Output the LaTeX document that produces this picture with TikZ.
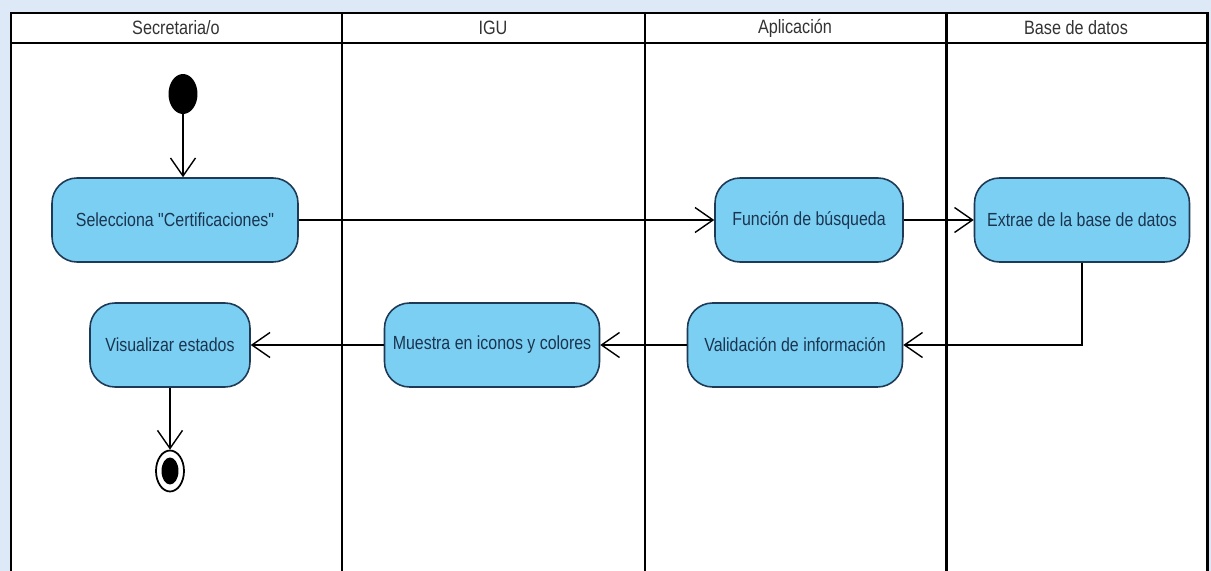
\documentclass[tikz,border=0pt]{standalone}
\usepackage{fontspec}
\setmainfont{Liberation Sans}[FakeStretch=0.84, Ligatures=TeXOff]
\usetikzlibrary{arrows.meta,shapes.geometric}
\definecolor{bgblue}{HTML}{DDE9F6}
\definecolor{actfill}{HTML}{7BCFF2}
\definecolor{actline}{HTML}{1E3A56}
\definecolor{acttext}{HTML}{1B3450}

\begin{document}
\begin{tikzpicture}[x=0.02cm, y=-0.02cm, >={Straight Barb[length=0.36cm,width=0.5cm]},
    act/.style={rectangle, rounded corners=0.5cm, draw=actline, line width=0.9pt, fill=actfill, text=acttext, minimum height=1.68cm, font=\fontsize{10.8}{12}\selectfont},
    lane/.style={line width=1.7pt},
    flow/.style={->, line width=0.8pt},
    hdr/.style={font=\fontsize{11}{12}\selectfont, text=black!80}]
    % fondo y carriles
    \fill[bgblue] (0,0) rectangle (1211,571);
    \useasboundingbox (0,0) rectangle (1211,571);
    \fill[white] (11,13) rectangle (1207,571);
    \draw[lane] (11,571) -- (11,13) -- (1207,13) -- (1207,571);
    \draw[lane] (11,43) -- (1207,43);
    \foreach \x in {342,645,946} \draw[lane] (\x,13) -- (\x,571);
    \node[hdr] (hSec) at (176,28) {Secretaria/o};
    \node[hdr] (hIgu) at (493,28) {IGU};
    \node[hdr] (hApp) at (795,28) {Aplicación};
    \node[hdr] (hBd) at (1076,28) {Base de datos};

    % actividades
    \node[ellipse,fill=black,minimum width=0.58cm,minimum height=0.8cm,inner sep=0] (ini) at (183,94) {};
    \node[act,minimum width=4.92cm] (sel) at (175,220) {Selecciona "Certificaciones"};
    \node[act,minimum width=3.76cm] (bus) at (809,220) {Función de búsqueda};
    \node[act,minimum width=4.3cm] (ext) at (1082,220) {Extrae de la base de datos};
    \node[act,minimum width=4.3cm] (val) at (795,345) {Validación de información};
    \node[act,minimum width=4.3cm] (mue) at (492,345) {Muestra en iconos y colores};
    \node[act,minimum width=3.2cm] (vis) at (170,345) {Visualizar estados};
    \node[ellipse,draw,line width=1pt,fill=white,minimum width=0.56cm,minimum height=0.82cm,inner sep=0] (fin) at (170,471) {};
    \node[ellipse,fill=black,minimum width=0.34cm,minimum height=0.54cm,inner sep=0] (finDot) at (fin) {};

    \draw[flow] (ini) -- (ini |- sel.north);
    \draw[flow] (sel) -- (bus);
    \draw[flow] (bus) -- (ext);
    \draw[flow] (ext) |- (val);
    \draw[flow] (val) -- (mue);
    \draw[flow] (mue) -- (vis);
    \draw[flow] (vis) -- (fin);
\end{tikzpicture}
\end{document}
